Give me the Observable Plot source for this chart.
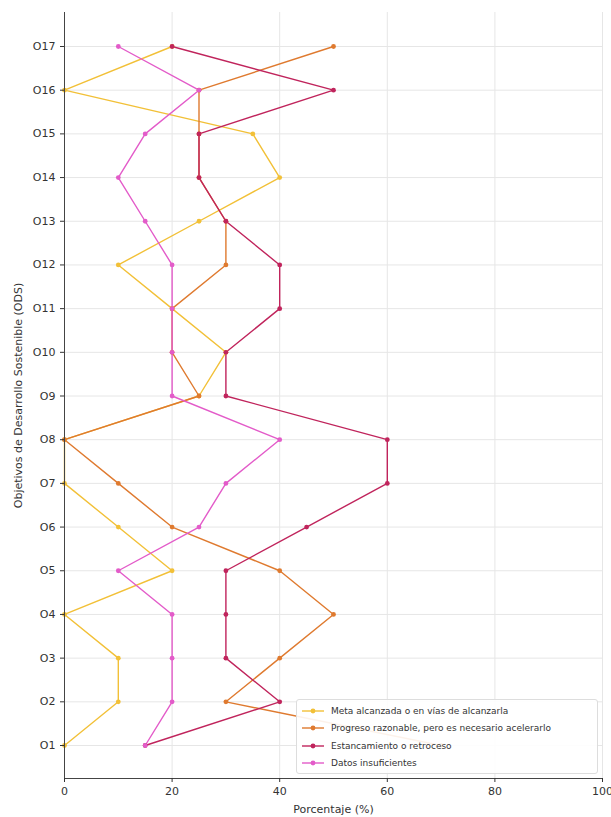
<!DOCTYPE html>
<html>
<head>
<meta charset="utf-8">
<script src="https://cdn.jsdelivr.net/npm/d3@7"></script>
<script src="https://cdn.jsdelivr.net/npm/@observablehq/plot@0.6"></script>
<style>
  html, body { margin: 0; padding: 0; background: #fff; }
  #wrap { position: relative; width: 611px; height: 817px; font-family: "DejaVu Sans", sans-serif; }
  #legend {
    position: absolute; left: 296px; top: 699px; width: 302px; height: 75px;
    background: rgba(255,255,255,0.9); border: 1px solid #dddddd; border-radius: 3px;
    box-sizing: border-box; padding: 2px 0 0 4px; font-size: 9px; color: #333;
  }
  .item { display: flex; align-items: center; height: 17.5px; }
  .item svg { margin-right: 6px; }
</style>
</head>
<body>
<div id="wrap"></div>
<script>
const categories = ["O1","O2","O3","O4","O5","O6","O7","O8","O9","O10","O11","O12","O13","O14","O15","O16","O17"];
const seriesNames = [
  "Meta alcanzada o en vías de alcanzarla",
  "Progreso razonable, pero es necesario acelerarlo",
  "Estancamiento o retroceso",
  "Datos insuficientes"
];
const meta      = [0,10,10,0,20,10,0,0,25,30,20,10,25,40,35,0,20];
const progreso  = [70,30,40,50,40,20,10,0,25,20,20,30,30,25,25,25,50];
const estanc    = [15,40,30,30,30,45,60,60,30,30,40,40,30,25,25,50,20];
const datos     = [15,20,20,20,10,25,30,40,20,20,20,20,15,10,15,25,10];
const colors = ["#f2c037", "#df7a2f", "#c0245c", "#e35bc9"];
const xTicks = [0, 20, 40, 60, 80, 100];

const allValues = [meta, progreso, estanc, datos];
const rows = [];
allValues.forEach((vals, s) => {
  vals.forEach((v, i) => rows.push({serie: seriesNames[s], ods: categories[i], value: v}));
});

const chart = Plot.plot({
  width: 611,
  height: 817,
  marginLeft: 64,
  marginRight: 9,
  marginTop: 12,
  marginBottom: 39,
  style: {fontFamily: "DejaVu Sans, sans-serif", fontSize: "11px", color: "#333", background: "#fff"},
  x: {domain: [0, 100]},
  y: {type: "point", domain: categories.slice().reverse(), padding: 0, round: false, insetTop: 34, insetBottom: 33},
  color: {domain: seriesNames, range: colors},
  marks: [
    Plot.gridX(xTicks, {stroke: "#e6e6e6", strokeOpacity: 1}),
    Plot.gridY({stroke: "#e6e6e6", strokeOpacity: 1}),
    Plot.line(rows, {x: "value", y: "ods", z: "serie", stroke: "serie", strokeWidth: 1.4}),
    Plot.dot(rows, {x: "value", y: "ods", fill: "serie", r: 2.4}),
    Plot.frame({anchor: "left", stroke: "#444"}),
    Plot.frame({anchor: "bottom", stroke: "#444"}),
    Plot.axisX({ticks: xTicks, tickSize: 4, label: "Porcentaje (%)", labelAnchor: "center", labelArrow: "none", labelOffset: 34}),
    Plot.axisY({tickSize: 4, label: "Objetivos de Desarrollo Sostenible (ODS)", labelAnchor: "center", labelArrow: "none", labelOffset: 50})
  ]
});

const wrap = document.getElementById("wrap");
wrap.appendChild(chart);

const legend = document.createElement("div");
legend.id = "legend";
seriesNames.forEach((name, i) => {
  const item = document.createElement("div");
  item.className = "item";
  item.innerHTML = `<svg width="24" height="8"><line x1="1" x2="23" y1="4" y2="4" stroke="${colors[i]}" stroke-width="1.4"/><circle cx="12" cy="4" r="2.4" fill="${colors[i]}"/></svg><span>${name}</span>`;
  legend.appendChild(item);
});
wrap.appendChild(legend);
</script>
</body>
</html>
